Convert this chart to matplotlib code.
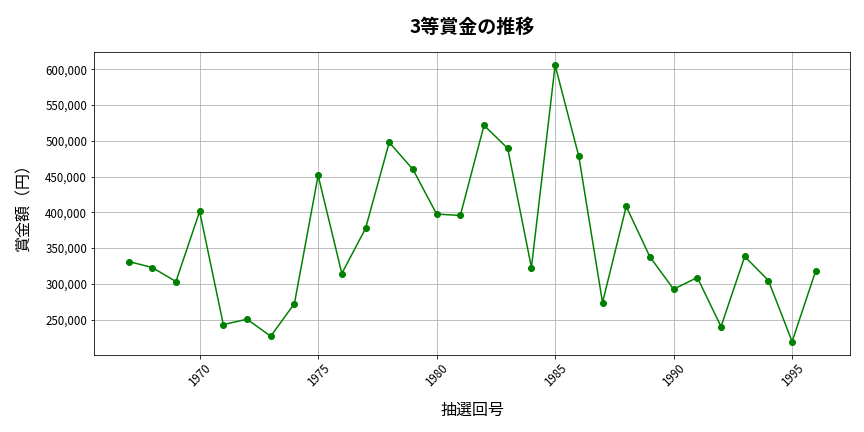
import matplotlib
matplotlib.use("Agg")
import matplotlib.pyplot as plt
from matplotlib.ticker import FuncFormatter

plt.rcParams['font.family'] = ['Noto Sans CJK JP', 'DejaVu Sans']

years = list(range(1967, 1997))
prizes = [331200, 322800, 303200, 401200, 243000, 250500, 226700, 272400,
          451600, 314400, 377400, 497800, 460000, 397500, 395600, 521600,
          489400, 322800, 605600, 478200, 273800, 408200, 337700, 292500,
          308800, 240200, 338200, 304600, 219200, 318600]

fig, ax = plt.subplots(figsize=(12, 6), dpi=72)
ax.plot(years, prizes, color='green', marker='o', markersize=6, linewidth=1.5)
ax.set_title('3等賞金の推移', fontsize=19, fontweight='bold', pad=19)
ax.set_xlabel('抽選回号', fontsize=16, labelpad=12)
ax.set_ylabel('賞金額（円）', fontsize=16, labelpad=13)
ax.yaxis.set_major_formatter(FuncFormatter(lambda v, p: f'{int(v):,}'))
ax.set_ylim(200300, 623800)
ax.grid(True)
plt.setp(ax.get_xticklabels(), rotation=45)
ax.tick_params(labelsize=11.5)
fig.subplots_adjust(left=0.109, right=0.984, top=0.879, bottom=0.178)
fig.savefig('out.png', dpi=72)
